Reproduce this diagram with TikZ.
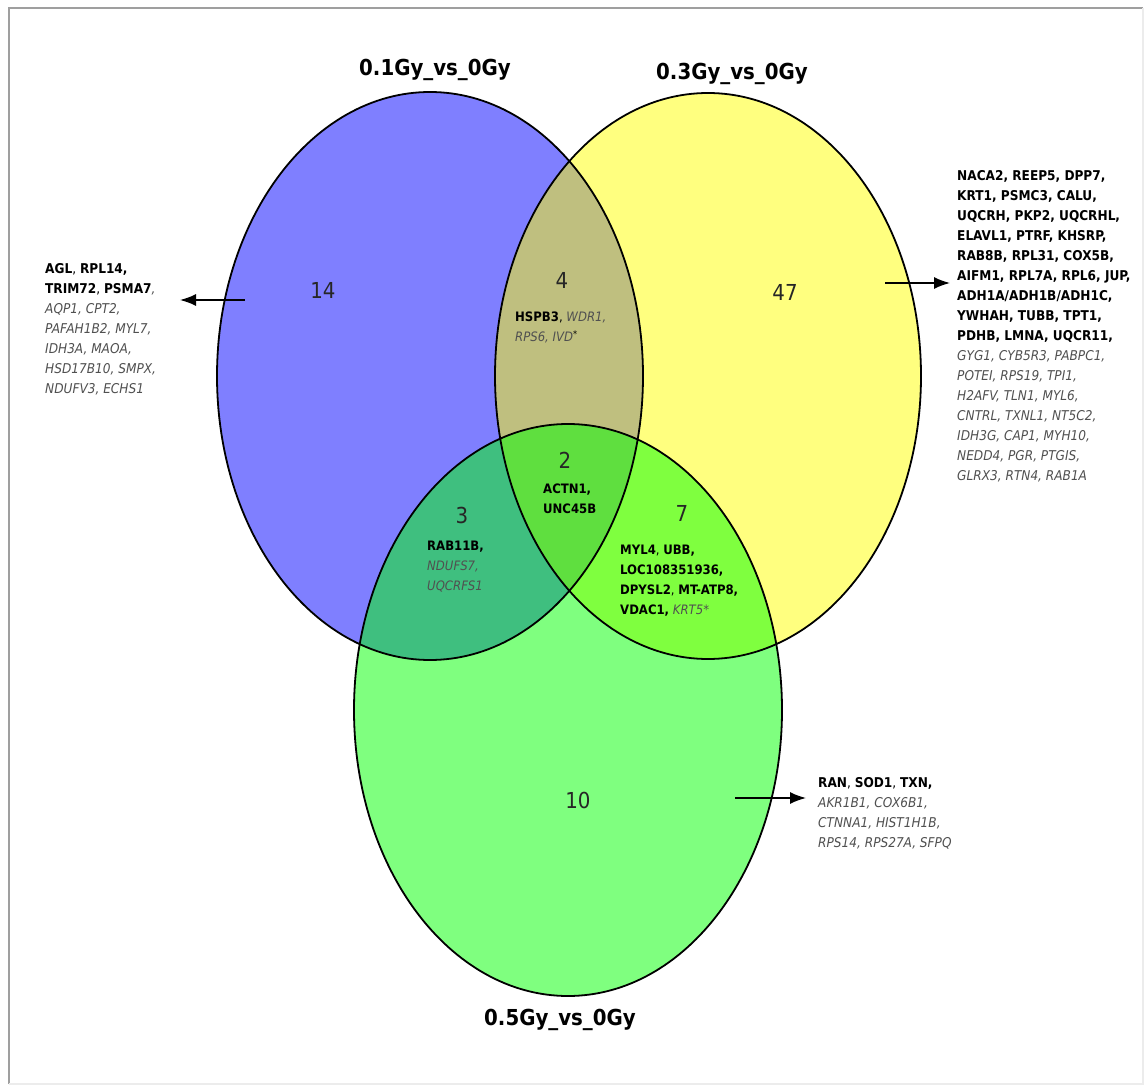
\documentclass[tikz,border=0pt]{standalone}
\usepackage{fontspec}
\setmainfont{DejaVu Sans Condensed}[BoldFont={DejaVu Sans Condensed Bold},ItalicFont={DejaVu Sans Condensed Oblique},BoldItalicFont={DejaVu Sans Condensed Bold Oblique}]
\usetikzlibrary{arrows.meta}
\definecolor{vblue}{RGB}{0,0,255}
\definecolor{vyellow}{RGB}{255,255,0}
\definecolor{vgreen}{RGB}{0,255,0}
\definecolor{genegray}{RGB}{80,80,80}
\newcommand{\gb}[1]{\textbf{#1}}
\newcommand{\gi}[1]{\textcolor{genegray}{\textit{#1}}}
\begin{document}
\begin{tikzpicture}[x=1pt,y=-1pt,
  setfill/.style={fill opacity=0.5, draw=none},
  setline/.style={draw=black, line width=1.8pt},
  title/.style={font=\fontsize{22}{26}\selectfont\bfseries, text=black},
  count/.style={font=\fontsize{22}{26}\selectfont, text=black!85},
  genes/.style={font=\fontsize{13.5}{20}\selectfont, align=left, anchor=north west, inner sep=0pt},
  rgenes/.style={font=\fontsize{13}{20}\selectfont, align=left, anchor=north west, inner sep=0pt},
  pointer/.style={line width=1.5pt, -{Latex[length=16pt,width=12pt]}}
]
\useasboundingbox (0,0) rectangle (1144,1086);
\fill[white] (0,0) rectangle (1144,1086);
% frame
\draw[gray!75, line width=2pt] (9,1084) -- (9,8) -- (1143,8);
\draw[gray!15, line width=1.5pt] (1143,8) -- (1143,1084) -- (9,1084);

% set fills
\fill[vblue, setfill] (430,376) ellipse [x radius=213pt, y radius=284pt];
\fill[vyellow, setfill] (708,376) ellipse [x radius=213pt, y radius=283pt];
\fill[vgreen, setfill] (568,710) ellipse [x radius=214pt, y radius=286pt];
% set outlines
\draw[setline] (430,376) ellipse [x radius=213pt, y radius=284pt];
\draw[setline] (708,376) ellipse [x radius=213pt, y radius=283pt];
\draw[setline] (568,710) ellipse [x radius=214pt, y radius=286pt];

% titles
\node[title] (t1) at (435,70) {0.1Gy\_vs\_0Gy};
\node[title] (t3) at (732,74) {0.3Gy\_vs\_0Gy};
\node[title] (t5) at (560,1020) {0.5Gy\_vs\_0Gy};

% counts
\node[count] (n14) at (323,290) {14};
\node[count] (n4) at (562,280) {4};
\node[count] (n47) at (785,292) {47};
\node[count] (n2) at (565,460) {2};
\node[count] (n3) at (462,515) {3};
\node[count] (n7) at (682,513) {7};
\node[count] (n10) at (578,800) {10};

% region labels
\node[rgenes] (l4) at (515,312) {\gb{HSPB3}, \gi{WDR1,}\\\gi{RPS6, IVD}\textsuperscript{*}};
\node[rgenes] (l2) at (543,484) {\gb{ACTN1,}\\\gb{UNC45B}};
\node[rgenes] (l3) at (427,541) {\gb{RAB11B,}\\\gi{NDUFS7,}\\\gi{UQCRFS1}};
\node[rgenes] (l7) at (620,545) {\gb{MYL4}, \gb{UBB,}\\\gb{LOC108351936,}\\\gb{DPYSL2}, \gb{MT-ATP8,}\\\gb{VDAC1,} \gi{KRT5*}};

% outer lists
\node[genes] (left) at (45,263) {\gb{AGL}, \gb{RPL14,}\\\gb{TRIM72}, \gb{PSMA7}\gi{,}\\\gi{AQP1, CPT2,}\\\gi{PAFAH1B2, MYL7,}\\\gi{IDH3A, MAOA,}\\\gi{HSD17B10, SMPX,}\\\gi{NDUFV3, ECHS1}};
\node[genes] (right) at (957,170) {\gb{NACA2, REEP5, DPP7,}\\\gb{KRT1, PSMC3, CALU,}\\\gb{UQCRH, PKP2, UQCRHL,}\\\gb{ELAVL1, PTRF, KHSRP,}\\\gb{RAB8B, RPL31, COX5B,}\\\gb{AIFM1, RPL7A, RPL6, JUP,}\\\gb{ADH1A/ADH1B/ADH1C,}\\\gb{YWHAH, TUBB, TPT1,}\\\gb{PDHB, LMNA, UQCR11,}\\\gi{GYG1, CYB5R3, PABPC1,}\\\gi{POTEI, RPS19, TPI1,}\\\gi{H2AFV, TLN1, MYL6,}\\\gi{CNTRL, TXNL1, NT5C2,}\\\gi{IDH3G, CAP1, MYH10,}\\\gi{NEDD4, PGR, PTGIS,}\\\gi{GLRX3, RTN4, RAB1A}};
\node[genes] (bottom) at (818,777) {\gb{RAN}, \gb{SOD1}, \gb{TXN,}\\\gi{AKR1B1, COX6B1,}\\\gi{CTNNA1, HIST1H1B,}\\\gi{RPS14, RPS27A, SFPQ}};

% pointers
\coordinate (a1s) at (245,300);
\coordinate (a1e) at (180,300);
\coordinate (a2s) at (885,283);
\coordinate (a2e) at (950,283);
\coordinate (a3s) at (735,798);
\coordinate (a3e) at (806,798);
\draw[pointer] (a1s) -- (a1e);
\draw[pointer] (a2s) -- (a2e);
\draw[pointer] (a3s) -- (a3e);
\end{tikzpicture}
\end{document}
